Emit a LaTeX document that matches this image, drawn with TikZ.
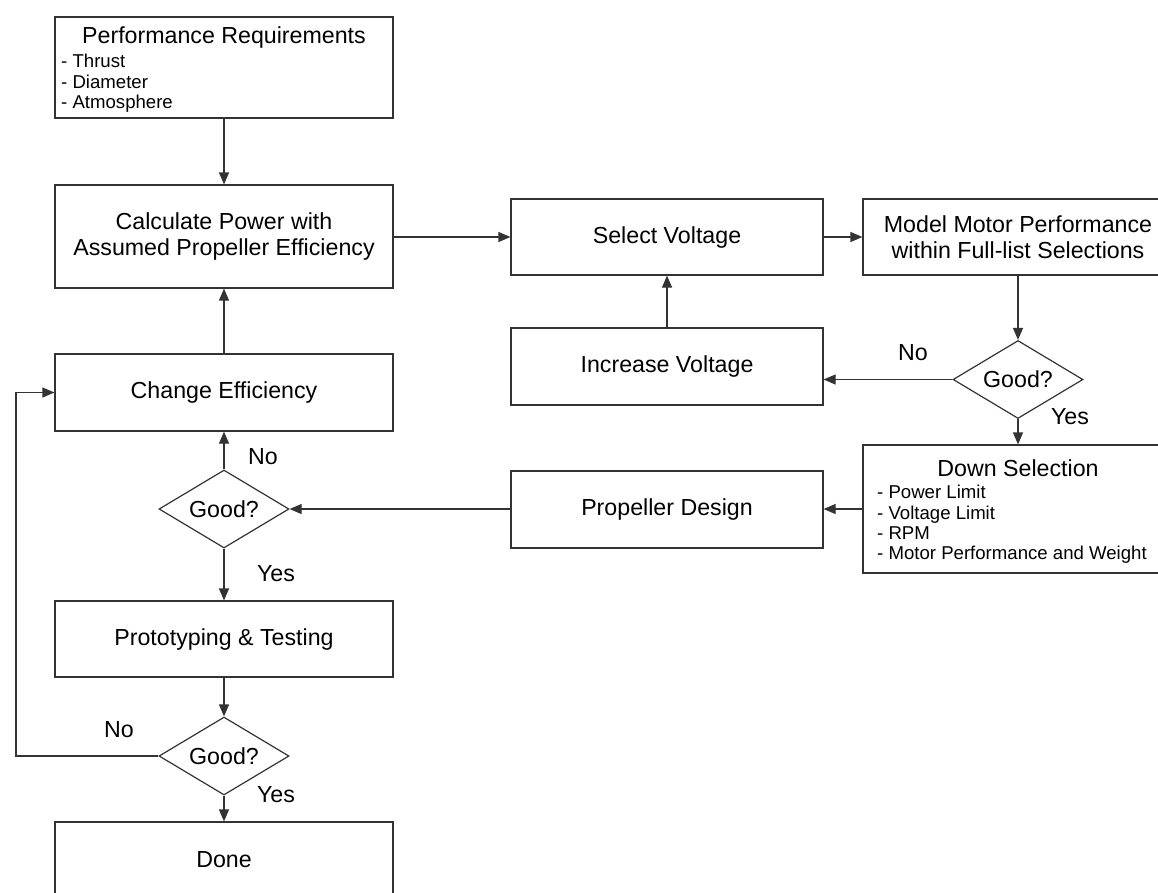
\documentclass[tikz,border=0pt]{standalone}
\usepackage{fontspec}
\setmainfont{Liberation Sans}
\usetikzlibrary{shapes.geometric,arrows.meta}
\tikzset{
  ln/.style={draw=black!80, line width=1.2pt},
  box/.style={ln, rectangle, inner sep=0pt, font=\fontsize{23.2}{26}\selectfont, align=center},
  dia/.style={ln, diamond, shape aspect=1.667, inner sep=0pt, minimum width=130pt, minimum height=78pt, font=\fontsize{23.2}{26}\selectfont},
  lbl/.style={inner sep=0pt, font=\fontsize{23.2}{26}\selectfont},
  lst/.style={inner sep=0pt, align=left, font=\fontsize{18.6}{20.4}\selectfont},
  arr/.style={ln, -{Triangle[length=12pt,width=10pt]}},
}
\begin{document}
\begin{tikzpicture}[x=1pt,y=-1pt]
\useasboundingbox (0,0) rectangle (1158,892);
\clip (0,0) rectangle (1158,892);
% left column
\node[box, minimum width=338pt, minimum height=101pt] (req) at (224,67.5) {};
\node[lbl] (reqt) at (224,37) {Performance Requirements};
\node[lst, anchor=north west] (reql) at (61,54) {- Thrust\\- Diameter\\- Atmosphere};
\node[box, minimum width=338pt, minimum height=103pt] (calc) at (224,236.5) {Calculate Power with\\Assumed Propeller Efficiency};
\node[box, minimum width=338pt, minimum height=77pt] (chg) at (224,392.5) {Change Efficiency};
\node[dia] (g1) at (224,509) {Good?};
\node[box, minimum width=338pt, minimum height=76pt] (proto) at (224,639) {Prototyping \& Testing};
\node[dia] (g2) at (224,756) {Good?};
\node[box, minimum width=338pt, minimum height=76pt] (done) at (224,860) {Done};
% middle column
\node[box, minimum width=312pt, minimum height=76pt] (sel) at (667,237) {Select Voltage};
\node[box, minimum width=312pt, minimum height=77pt] (inc) at (667,366.5) {Increase Voltage};
\node[box, minimum width=312pt, minimum height=77pt] (prop) at (667,509.5) {Propeller Design};
% right column
\node[box, minimum width=310pt, minimum height=76pt] (mod) at (1018,237) {Model Motor Performance\\within Full-list Selections};
\node[dia] (g3) at (1018,379.5) {Good?};
\node[box, minimum width=310pt, minimum height=128pt] (down) at (1018,509) {};
\node[lbl] (downt) at (1018,468) {Down Selection};
\node[lst, anchor=north west] (downl) at (877,485) {- Power Limit\\- Voltage Limit\\- RPM\\- Motor Performance and Weight};
% connectors
\draw[arr] (req) -- (calc);
\draw[arr] (sel.west -| calc.east) -- (sel.west);
\draw[arr] (sel.east) -- (mod.west);
\draw[arr] (mod.south) -- (g3.north);
\draw[arr] (g3.west) -- (g3.west -| inc.east);
\draw[arr] (inc) -- (sel);
\draw[arr] (g3.south) -- (down.north);
\draw[arr] (down.west) -- (down.west -| prop.east);
\draw[arr] (g1.east -| prop.west) -- (g1.east);
\draw[arr] (g1.north) -- (chg.south);
\draw[arr] (chg) -- (calc);
\draw[arr] (g1.south) -- (proto.north);
\draw[arr] (proto.south) -- (g2.north);
\draw[arr] (g2.south) -- (done.north);
\coordinate (lb) at (16,756);
\coordinate (lt) at (16,392.5);
\draw[arr] (g2.west) -- (lb) -- (lt) -- (chg.west);
% labels
\node[lbl] (n3) at (913,353) {No};
\node[lbl] (y3) at (1070,417) {Yes};
\node[lbl] (n1) at (263,457) {No};
\node[lbl] (y1) at (276,574) {Yes};
\node[lbl] (n2) at (119,730) {No};
\node[lbl] (y2) at (276,795) {Yes};
\end{tikzpicture}
\end{document}
